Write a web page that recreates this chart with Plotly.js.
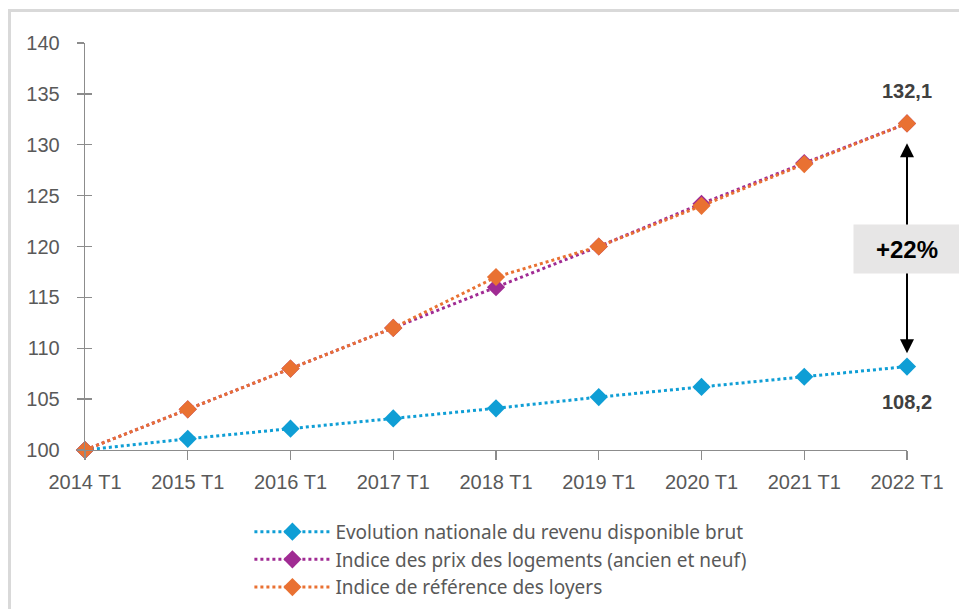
<!DOCTYPE html>
<html>
<head>
<meta charset="utf-8">
<script src="https://cdn.plot.ly/plotly-3.0.1.min.js"></script>
<style>
html,body{margin:0;padding:0;background:#fff;}
#wrap{position:relative;width:959px;height:609px;}
#chart{position:absolute;left:0;top:0;width:959px;height:609px;}
#frame{position:absolute;left:8px;top:9px;width:951px;height:600px;border-top:3px solid #d9d9d9;border-left:3px solid #d9d9d9;box-sizing:border-box;pointer-events:none;}
</style>
</head>
<body>
<div id="wrap"><div id="chart"></div><div id="frame"></div></div>
<script>
const periods = ["2014 T1","2015 T1","2016 T1","2017 T1","2018 T1","2019 T1","2020 T1","2021 T1","2022 T1"];
const revenu = [100, 101.1, 102.1, 103.1, 104.1, 105.2, 106.2, 107.2, 108.2];
const prixLogements = [100, 104, 108, 112, 116, 120, 124.2, 128.2, 132.1];
const irl = [100, 104, 108, 112, 117, 120, 124, 128.1, 132.1];
const names = ["Evolution nationale du revenu disponible brut","Indice des prix des logements (ancien et neuf)","Indice de référence des loyers"];
const colors = ["#0F9ED5","#A02B93","#E97132"];
const yTicks = [100,105,110,115,120,125,130,135,140];
const labelTop = "132,1", labelBottom = "108,2", gapLabel = "+22%";

const idx = periods.map((p,i)=>i);
const series = [revenu, prixLogements, irl];
const traces = series.map((s,k)=>({
  x: idx, y: s, name: names[k], type:'scatter', mode:'lines+markers',
  line:{color:colors[k], width:3, dash:'dot'},
  marker:{symbol:'diamond', size:14, color:colors[k]},
  cliponaxis:false, legendgroup:'g'+k
}));
traces.push({x:idx, y:revenu, yaxis:'y2', type:'scatter', mode:'none', showlegend:false, hoverinfo:'skip'});

const last = periods.length-1;
const layout = {
  width:959, height:609,
  margin:{l:85, r:52, t:43, b:159},
  paper_bgcolor:'#fff', plot_bgcolor:'#fff',
  font:{family:'Liberation Sans, Arial, sans-serif', color:'#595959'},
  showlegend:true,
  xaxis:{range:[0,last], tickvals:idx, ticktext:periods, tickangle:0, showgrid:false, zeroline:false,
    showline:true, linecolor:'#8c8c8c', linewidth:1.3, ticks:'outside', ticklen:9, tickcolor:'#8c8c8c', tickwidth:1.3,
    tickfont:{size:20, color:'#595959'}, ticklabelstandoff:5},
  yaxis:{range:[100,140], tickvals:yTicks, showgrid:false, zeroline:false,
    showline:true, linecolor:'#8c8c8c', linewidth:1.3, ticks:'outside', ticklen:7, tickcolor:'#8c8c8c', tickwidth:1.3,
    tickfont:{size:20, color:'#595959'}, ticklabelstandoff:13},
  yaxis2:{range:[100,140], overlaying:'y', tickvals:yTicks, showticklabels:false, showgrid:false, zeroline:false,
    showline:false, ticks:'inside', ticklen:7, tickcolor:'#8c8c8c', tickwidth:1.3},
  legend:{xref:'paper', yref:'container', x:0.2, xanchor:'left', y:0.158, yanchor:'top', orientation:'v', tracegroupgap:0,
    font:{family:'Noto Sans, sans-serif', size:19, color:'#595959'}, itemwidth:76, bgcolor:'rgba(0,0,0,0)'},
  annotations:[
    {x:last, y:109.5, ax:last, ay:130.3, xref:'x', yref:'y', axref:'x', ayref:'y', text:'', showarrow:true,
     arrowhead:2, startarrowhead:2, arrowside:'end+start', arrowsize:1.4, startarrowsize:1.4, arrowwidth:2, arrowcolor:'#000'},
    {x:last, y:119.75, xref:'x', yref:'y', text:'<b>'+gapLabel+'</b>', showarrow:false, bgcolor:'#e7e6e6',
     width:102, height:44, borderpad:2, font:{family:'Liberation Sans, Arial', size:24, color:'#000'}},
    {x:last, y:135.3, xref:'x', yref:'y', text:'<b>'+labelTop+'</b>', showarrow:false,
     font:{family:'Liberation Sans, Arial', size:20, color:'#404040'}},
    {x:last, y:104.7, xref:'x', yref:'y', text:'<b>'+labelBottom+'</b>', showarrow:false,
     font:{family:'Liberation Sans, Arial', size:20, color:'#404040'}}
  ]
};
Plotly.newPlot('chart', traces, layout, {displayModeBar:false, staticPlot:true});
</script>
</body>
</html>
